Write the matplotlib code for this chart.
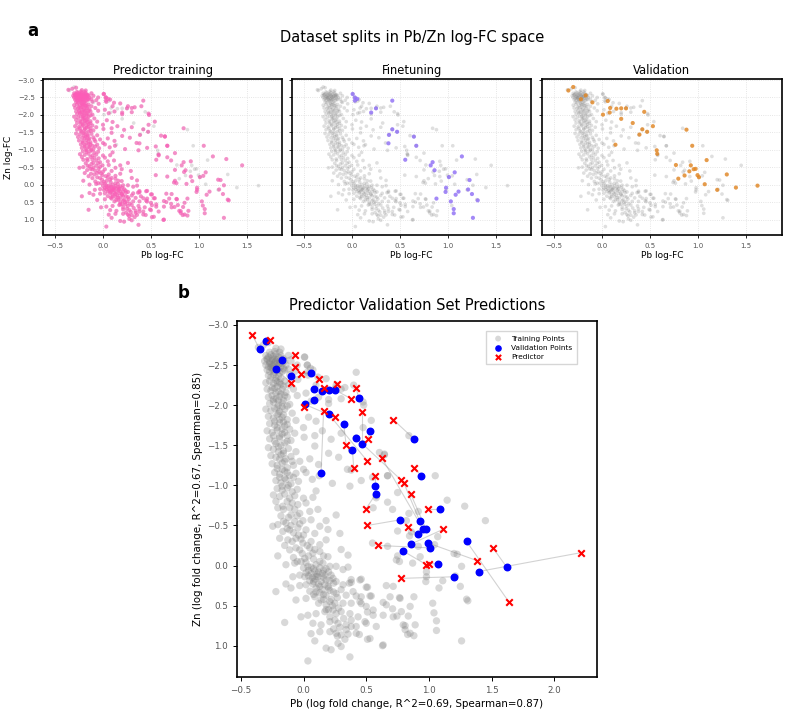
import numpy as np
import matplotlib
matplotlib.use("Agg")
import matplotlib.pyplot as plt

# ---- data (Pb log-FC, Zn log-FC) ----
train_cluster = [
    (-0.30, -2.62), (-0.28, -2.60), (-0.26, -2.63), (-0.24, -2.61), (-0.22, -2.64), (-0.20, -2.60), (-0.18, -2.62), (-0.16, -2.58),
    (-0.31, -2.55), (-0.29, -2.57), (-0.27, -2.54), (-0.25, -2.56), (-0.23, -2.53), (-0.21, -2.57), (-0.19, -2.55), (-0.17, -2.52),
    (-0.15, -2.55), (-0.30, -2.50), (-0.28, -2.48), (-0.26, -2.51), (-0.24, -2.49), (-0.22, -2.47), (-0.20, -2.50), (-0.18, -2.48),
    (-0.16, -2.46), (-0.14, -2.50), (-0.29, -2.44), (-0.27, -2.42), (-0.25, -2.45), (-0.23, -2.41), (-0.21, -2.43), (-0.19, -2.40),
    (-0.17, -2.42), (-0.15, -2.44), (-0.28, -2.37), (-0.26, -2.35), (-0.24, -2.38), (-0.22, -2.34), (-0.20, -2.36), (-0.18, -2.33),
    (-0.27, -2.66), (-0.23, -2.67), (-0.19, -2.66), (-0.25, -2.58), (-0.21, -2.52), (-0.26, -2.47), (-0.24, -2.43), (-0.20, -2.45),
    (-0.27, -2.52), (-0.23, -2.58), (-0.17, -2.57), (-0.29, -2.58), (-0.22, -2.55), (-0.25, -2.50), (-0.19, -2.52),
    (-0.36, -2.72), (-0.32, -2.75), (-0.28, -2.78), (-0.22, -2.71), (-0.18, -2.70), (-0.12, -2.62), (-0.10, -2.55), (-0.12, -2.45),
    (-0.11, -2.38),
]

train_upper = [
    (0.01, -2.60), (0.03, -2.50), (0.075, -2.44), (0.035, -2.375), (0.115, -2.35), (0.18, -2.33), (-0.045, -2.32), (0.26, -2.25),
    (-0.07, -2.42), (-0.05, -2.50), (0.10, -2.25), (0.30, -2.20), (0.33, -2.22), (0.40, -2.25),
    (-0.30, -2.28), (-0.27, -2.30), (-0.24, -2.27), (-0.21, -2.29), (-0.18, -2.26), (-0.15, -2.30), (-0.12, -2.25), (-0.29, -2.20),
    (-0.26, -2.18), (-0.23, -2.21), (-0.20, -2.17), (-0.17, -2.20), (-0.14, -2.16), (-0.08, -2.20), (-0.28, -2.10), (-0.25, -2.12),
    (-0.22, -2.08), (-0.19, -2.11), (-0.16, -2.06), (-0.13, -2.10), (-0.05, -2.12), (0.02, -2.15), (-0.27, -2.02), (-0.24, -2.04),
    (-0.20, -2.00), (-0.17, -2.03), (-0.11, -2.01), (0.06, -2.05), (0.12, -2.10), (0.20, -2.02), (0.30, -2.08),
    (-0.30, -1.95), (-0.26, -1.93), (-0.23, -1.96), (-0.19, -1.92), (-0.15, -1.95), (-0.09, -1.90), (-0.28, -1.86), (-0.24, -1.84),
    (-0.21, -1.88), (-0.17, -1.85), (-0.13, -1.82), (-0.06, -1.81), (0.04, -1.85), (0.10, -1.80), (-0.27, -1.77), (-0.23, -1.75),
    (-0.19, -1.78), (-0.15, -1.74), (-0.11, -1.70), (0.00, -1.72), (0.15, -1.68), (-0.29, -1.68), (-0.25, -1.66), (-0.21, -1.69),
    (-0.17, -1.64), (-0.13, -1.62), (-0.07, -1.65), (0.005, -1.60), (0.09, -1.62), (0.22, -1.575), (-0.27, -1.58), (-0.23, -1.55),
    (-0.19, -1.59), (-0.15, -1.53), (-0.10, -1.56), (0.30, -1.65), (0.475, -1.72), (0.54, -1.81), (0.475, -2.04), (0.48, -2.00),
]

train_middle = [
    (-0.28, -1.47), (-0.24, -1.45), (-0.20, -1.48), (-0.16, -1.43), (-0.12, -1.46), (-0.06, -1.42), (0.09, -1.49), (0.20, -1.40),
    (-0.26, -1.37), (-0.22, -1.35), (-0.18, -1.38), (-0.14, -1.33), (-0.10, -1.36), (-0.03, -1.30), (0.05, -1.33), (0.28, -1.35),
    (-0.25, -1.27), (-0.21, -1.25), (-0.17, -1.28), (-0.13, -1.22), (-0.08, -1.25), (0.00, -1.20), (0.12, -1.26), (-0.23, -1.16),
    (-0.19, -1.14), (-0.15, -1.18), (-0.11, -1.12), (-0.06, -1.15), (0.02, -1.16), (0.07, -1.075), (0.125, -1.12), (-0.22, -1.06),
    (-0.18, -1.03), (-0.14, -1.07), (-0.10, -1.02), (-0.04, -1.05), (0.23, -1.025), (0.37, -0.99), (0.46, -1.06), (0.55, -1.10),
    (0.605, -1.41), (0.645, -1.39), (0.84, -1.62), (0.67, -1.12), (1.05, -1.12), (0.35, -1.20),
    (-0.21, -0.96), (-0.17, -0.94), (-0.13, -0.97), (-0.09, -0.92), (-0.05, -0.95), (0.10, -0.93), (-0.24, -0.88), (-0.19, -0.86),
    (-0.15, -0.89), (-0.11, -0.84), (-0.07, -0.87), (0.00, -0.84), (0.075, -0.85), (-0.205, -0.72), (-0.165, -0.74), (-0.11, -0.72),
    (-0.045, -0.76), (0.02, -0.78), (-0.10, -0.63), (-0.03, -0.65), (0.05, -0.675), (0.115, -0.70), (0.18, -0.56), (0.26, -0.63),
    (-0.245, -0.49), (-0.205, -0.51), (-0.14, -0.53), (-0.07, -0.55), (-0.005, -0.56), (0.06, -0.57), (-0.18, -0.62), (-0.22, -0.80),
    (0.58, -0.87), (0.67, -0.79), (0.75, -0.91), (0.71, -0.70), (1.285, -0.74), (0.915, -0.675), (0.58, -0.845),
    (0.13, -0.49), (0.195, -0.45), (-0.165, -0.425), (-0.11, -0.445), (-0.045, -0.47), (0.02, -0.445), (0.09, -0.40), (0.29, -0.40),
    (-0.19, -0.34), (-0.125, -0.32), (-0.06, -0.34), (-0.005, -0.28), (0.06, -0.30), (0.13, -0.26), (0.18, -0.32), (-0.205, -0.12),
    (-0.11, -0.195), (-0.03, -0.195), (0.01, -0.09), (0.075, -0.155), (0.13, -0.175), (0.195, -0.11), (0.30, -0.20), (0.355, -0.13),
    (-0.15, -0.25), (-0.08, -0.10), (0.05, -0.22), (-0.04, -0.38), (1.45, -0.56), (1.20, -0.15), (0.75, -0.43), (0.845, -0.37),
    (0.75, -0.12), (0.87, -0.03), (0.67, -0.24), (0.55, -0.28), (0.765, -0.05), (0.74, -0.07), (0.915, -0.24), (0.93, -0.11),
    (1.045, -0.26),
]

train_lower = [
    (-0.14, -0.01), (-0.07, -0.03), (-0.02, -0.05), (0.035, 0.01), (0.10, -0.01), (0.155, -0.03), (0.21, 0.01), (0.26, 0.01),
    (0.315, 0.05), (0.355, 0.02), (-0.085, 0.14), (-0.03, 0.12), (0.01, 0.14), (0.06, 0.10), (0.115, 0.14), (0.17, 0.12),
    (0.235, 0.16), (0.315, 0.24), (0.38, 0.21), (0.45, 0.18), (0.50, 0.27), (-0.14, 0.23), (-0.10, 0.28), (-0.03, 0.25),
    (0.02, 0.24), (0.075, 0.23), (0.13, 0.26), (0.195, 0.26), (0.04, 0.06), (0.08, 0.04), (0.12, 0.08), (0.16, 0.06),
    (0.09, 0.17), (0.14, 0.20), (0.05, 0.19), (0.18, 0.18), (0.11, 0.11), (0.07, 0.15), (0.20, 0.08), (0.24, 0.22),
    (1.26, 0.01), (0.98, 0.14), (0.365, 0.22), (0.38, 0.175), (0.46, 0.17), (0.51, 0.27), (0.66, 0.25), (0.715, 0.26),
    (-0.22, 0.325), (0.26, 0.35), (0.34, 0.37), (0.395, 0.325), (0.46, 0.39), (0.53, 0.38), (-0.06, 0.43), (0.02, 0.41),
    (0.09, 0.39), (0.14, 0.43), (0.18, 0.49), (0.25, 0.47), (0.315, 0.47), (0.38, 0.47), (0.45, 0.45), (0.50, 0.51),
    (0.555, 0.555), (0.635, 0.46), (0.69, 0.39), (0.77, 0.41), (0.85, 0.51), (0.10, 0.33), (0.16, 0.36), (0.21, 0.31),
    (0.05, 0.32), (0.12, 0.47), (0.22, 0.42), (0.28, 0.53), (0.20, 0.55), (1.30, 0.42), (1.04, 0.59), (0.42, 0.38),
    (0.54, 0.38), (0.765, 0.40), (0.66, 0.49), (0.71, 0.54), (0.46, 0.475), (0.51, 0.58),
    (-0.15, 0.71), (-0.02, 0.64), (0.035, 0.62), (0.10, 0.60), (0.17, 0.575), (0.235, 0.555), (0.30, 0.575), (0.37, 0.60),
    (0.435, 0.64), (0.49, 0.70), (0.555, 0.62), (0.635, 0.62), (0.715, 0.64), (0.78, 0.575), (0.835, 0.63), (0.075, 0.72),
    (0.14, 0.74), (0.21, 0.70), (0.275, 0.72), (0.34, 0.74), (0.42, 0.76), (0.50, 0.72), (0.58, 0.76), (0.795, 0.74),
    (0.89, 0.74), (0.06, 0.85), (0.13, 0.825), (0.21, 0.825), (0.26, 0.845), (0.30, 0.865), (0.355, 0.855), (0.42, 0.845),
    (0.53, 0.91), (0.635, 0.99), (0.81, 0.80), (0.85, 0.845), (0.09, 0.94), (0.18, 1.03), (0.22, 1.05), (0.275, 0.97),
    (0.30, 1.01), (0.37, 1.14), (0.035, 1.19), (0.745, 0.63), (0.88, 0.875), (0.83, 0.86), (0.81, 0.75), (0.51, 0.92),
    (0.63, 1.0), (0.445, 0.86), (0.38, 0.76),
]

# denser ridge of the curve
train_ridge = [
    (-0.22, -2.31), (-0.19, -2.28), (-0.16, -2.24), (-0.21, -2.23), (-0.25, -2.22), (-0.18, -2.14), (-0.22, -2.15), (-0.15, -2.12),
    (-0.20, -2.06), (-0.24, -2.07), (-0.17, -1.98), (-0.21, -1.97), (-0.13, -1.99), (-0.20, -1.90), (-0.16, -1.88), (-0.23, -1.80),
    (-0.19, -1.82), (-0.16, -1.79), (-0.21, -1.72), (-0.17, -1.70), (-0.13, -1.76), (-0.24, -1.62), (-0.19, -1.61), (-0.15, -1.66),
    (-0.22, -1.52), (-0.18, -1.50), (-0.13, -1.55), (-0.20, -1.42), (-0.16, -1.40), (-0.19, -1.33), (-0.15, -1.30), (-0.21, -1.21),
    (-0.17, -1.20), (-0.13, -1.16), (-0.19, -1.10), (-0.15, -1.09), (-0.12, -1.00), (-0.17, -0.99), (-0.08, -1.10), (-0.09, -1.30),
    (-0.13, -0.80), (-0.09, -0.78), (-0.16, -0.70), (-0.07, -0.70), (-0.12, -0.60), (-0.05, -0.62), (-0.16, -0.55), (-0.10, -0.50),
    (-0.03, -0.52), (-0.08, -0.41), (0.00, -0.38), (-0.13, -0.46), (-0.09, -0.30), (-0.02, -0.33), (0.03, -0.25), (-0.06, -0.22),
    (0.09, -0.20), (-0.01, -0.15), (0.04, -0.12), (-0.05, -0.05), (0.02, -0.04), (0.08, -0.08), (0.13, -0.05), (0.16, -0.12),
    (0.00, 0.03), (0.06, 0.02), (0.13, 0.03), (0.18, 0.04), (0.02, 0.09), (0.09, 0.07), (0.15, 0.10), (0.22, 0.12),
    (0.04, 0.13), (0.10, 0.14), (0.16, 0.15), (0.21, 0.19), (0.08, 0.20), (0.12, 0.23), (0.17, 0.24), (0.26, 0.20),
    (0.10, 0.28), (0.15, 0.30), (0.20, 0.28), (0.13, 0.34), (0.18, 0.37), (0.24, 0.33), (0.08, 0.36), (0.16, 0.42),
    (0.21, 0.45), (0.27, 0.40), (0.30, 0.30), (0.23, 0.50), (0.18, 0.55), (0.26, 0.60), (0.21, 0.64), (0.32, 0.66),
    (0.25, 0.68), (0.29, 0.77), (0.34, 0.80), (0.24, 0.79), (0.38, 0.68), (0.33, 0.92), (0.27, 0.88),
]

finetune_pts = [
    (0.007, -2.60), (0.03, -2.50), (0.055, -2.46), (0.03, -2.41), (0.42, -2.41), (0.25, -2.19), (0.20, -2.07), (0.42, -1.59),
    (0.47, -1.52), (0.385, -1.43), (0.38, -1.19), (0.645, -1.38), (0.67, -1.12), (0.555, -0.72), (0.84, -0.65), (0.82, -0.56),
    (0.86, -0.42), (1.145, -0.815), (1.07, -0.36), (1.01, -0.225), (1.225, -0.14), (1.21, 0.13), (0.98, 0.08), (0.975, 0.20),
    (1.11, 0.19), (1.08, 0.28), (1.25, 0.26), (1.31, 0.44), (0.88, 0.39), (1.03, 0.47), (1.06, 0.69), (1.06, 0.81),
    (1.26, 0.94),
]

val_pb = [-0.35, -0.30, -0.17, -0.22, -0.10, 0.06, 0.085, 0.15, 0.20, 0.25, 0.44, 0.08, 0.01, 0.20, 0.32, 0.53, 0.42,
          0.47, 0.39, 0.88, 0.14, 0.94, 0.57, 0.575, 1.09, 0.925, 0.955, 0.975, 0.91, 0.995, 1.01, 1.07, 1.30, 1.20,
          1.395, 1.62, 0.77, 0.86, 0.795]
val_zn = [-2.70, -2.80, -2.56, -2.45, -2.36, -2.40, -2.20, -2.18, -2.19, -2.19, -2.09, -2.07, -2.01, -1.89, -1.77, -1.68,
          -1.59, -1.52, -1.44, -1.58, -1.15, -1.12, -0.99, -0.89, -0.71, -0.56, -0.45, -0.46, -0.39, -0.28, -0.22, -0.02,
          -0.30, 0.14, 0.075, 0.02, -0.57, -0.27, -0.18]
pred_pb = [-0.41, -0.27, -0.065, -0.10, -0.065, -0.02, 0.125, 0.16, 0.265, 0.38, 0.42, 0.0, 0.25, 0.51, 0.34, 0.515,
           0.776, 0.47, 0.40, 0.715, 0.16, 0.88, 0.57, 0.495, 0.99, 0.80, 0.625, 0.855, 0.83, 1.385, 0.595, 1.00, 1.64,
           0.78, 2.21, 1.51, 0.51, 1.11, 0.98]
pred_zn = [-2.88, -2.81, -2.63, -2.28, -2.48, -2.39, -2.33, -2.21, -2.27, -2.08, -2.21, -1.975, -1.85, -1.30, -1.50,
           -1.575, -1.07, -1.91, -1.22, -1.82, -1.93, -1.22, -1.12, -0.70, -0.71, -1.03, -1.34, -0.89, -0.475, -0.06,
           -0.25, -0.025, 0.46, 0.16, -0.16, -0.22, -0.50, -0.45, -0.01]

train = np.array(train_cluster + train_upper + train_middle + train_lower + train_ridge + finetune_pts)
ft = np.array(finetune_pts)
val = np.column_stack([val_pb, val_zn])
all_pts = np.vstack([train, val])

plt.rcParams['font.family'] = 'DejaVu Sans'
fig = plt.figure(figsize=(7.93, 7.27), dpi=100)

# ---- panel a ----
panel_a = [
    ('Predictor training', train, '#ff5cb8', 0.6),
    ('Finetuning', ft, '#8f6cff', 0.75),
    ('Validation', val, '#e8851a', 0.75),
]
lefts = [0.0542, 0.3682, 0.6835]
for i, (title, pts, col, a) in enumerate(panel_a):
    ax = fig.add_axes([lefts[i], 0.6768, 0.302, 0.2146])
    ax.scatter(all_pts[:, 0], all_pts[:, 1], s=7, color='gray', alpha=0.25, edgecolors='none', zorder=2)
    ax.scatter(pts[:, 0], pts[:, 1], s=9, color=col, alpha=a, edgecolors='none', zorder=3)
    ax.set_xlim(-0.625, 1.87)
    ax.set_ylim(1.43, -3.03)
    ax.set_xticks([-0.5, 0.0, 0.5, 1.0, 1.5])
    ax.set_yticks([-3.0, -2.5, -2.0, -1.5, -1.0, -0.5, 0.0, 0.5, 1.0])
    ax.grid(True, linestyle=':', color='#dddddd', linewidth=0.6, zorder=0)
    ax.tick_params(labelsize=5, labelcolor='#555555', length=2.5, width=0.6)
    for sp in ax.spines.values():
        sp.set_linewidth(1.2)
    ax.set_title(title, fontsize=8.3, pad=3.5)
    ax.set_xlabel('Pb log-FC', fontsize=6.5, labelpad=1.5)
    if i == 0:
        ax.set_ylabel('Zn log-FC', fontsize=6.5, labelpad=3)
    else:
        ax.tick_params(labelleft=False)

fig.text(0.52, 0.948, 'Dataset splits in Pb/Zn log-FC space', fontsize=10.5, ha='center', va='center')
fig.text(0.042, 0.958, 'a', fontsize=12, fontweight='bold', ha='center', va='center')

# ---- panel b ----
axb = fig.add_axes([0.2989, 0.0688, 0.454, 0.4897])
axb.scatter(train[:, 0], train[:, 1], s=28, color='gray', alpha=0.3, edgecolors='none', label='Training Points', zorder=2)
for i in range(len(val_pb)):
    axb.plot([val_pb[i], pred_pb[i]], [val_zn[i], pred_zn[i]], color='gray', alpha=0.35, linewidth=0.8, zorder=1)
axb.scatter(val_pb, val_zn, s=22, color='blue', label='Validation Points', zorder=3)
axb.scatter(pred_pb, pred_zn, s=22, color='red', marker='x', linewidths=1.5, label='Predictor', zorder=4)
axb.set_xlim(-0.53, 2.34)
axb.set_ylim(1.39, -3.05)
axb.set_xticks([-0.5, 0.0, 0.5, 1.0, 1.5, 2.0])
axb.set_yticks([-3.0, -2.5, -2.0, -1.5, -1.0, -0.5, 0.0, 0.5, 1.0])
axb.tick_params(labelsize=6.3, labelcolor='#555555', length=3, width=0.7)
for sp in axb.spines.values():
    sp.set_linewidth(1.2)
axb.set_title('Predictor Validation Set Predictions', fontsize=10.5, pad=8)
axb.set_xlabel('Pb (log fold change, R^2=0.69, Spearman=0.87)', fontsize=7.4, labelpad=3)
axb.set_ylabel('Zn (log fold change, R^2=0.67, Spearman=0.85)', fontsize=7.4, labelpad=3)
axb.legend(loc='upper right', bbox_to_anchor=(0.944, 0.972), borderaxespad=0, fontsize=5.3,
           frameon=True, fancybox=False, edgecolor='#cccccc', markerscale=0.8, handletextpad=0.8,
           borderpad=0.6, labelspacing=0.4)
fig.text(0.231, 0.597, 'b', fontsize=12, fontweight='bold', ha='center', va='center')

fig.savefig('out.png', dpi=100)
